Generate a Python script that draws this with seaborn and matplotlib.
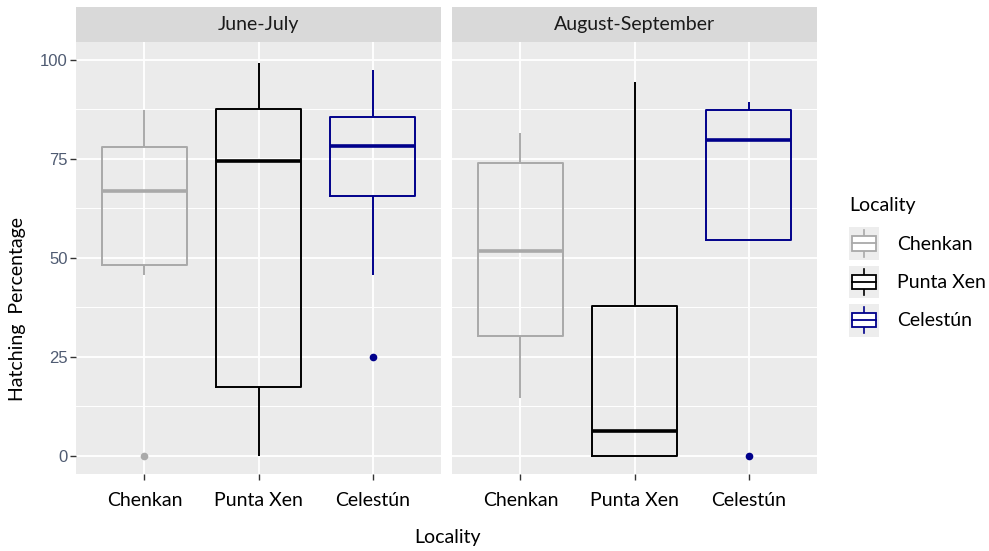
import numpy as np
import pandas as pd
import matplotlib
matplotlib.use("Agg")
import matplotlib.pyplot as plt
import seaborn as sns
from matplotlib.patches import Rectangle
from matplotlib.lines import Line2D
from matplotlib.legend_handler import HandlerBase
from matplotlib.ticker import MultipleLocator

# Hatching percentage per nest
periods = ["June-July", "August-September"]
localities = ["Chenkan", "Punta Xen", "Celestún"]

jj_chenkan = [0, 45.7, 48.2, 57, 66.9, 72, 78.0, 87.4, 87.4]
jj_punta = [0, 0, 17.4, 40, 74.5, 80, 87.6, 99.2, 99.2]
jj_celestun = [25, 45.7, 65.7, 70, 78.3, 82, 85.6, 97.5, 97.5]

as_chenkan = [14.6, 14.6, 30.3, 40, 51.8, 60, 74.0, 81.6, 81.6]
as_punta = [0, 0, 0, 3, 6.3, 20, 37.9, 94.4, 94.4]
as_celestun = [0, 54.5, 54.5, 70, 79.8, 85, 87.4, 89.4, 89.4]

colors = {"Chenkan": "#A9A9A9", "Punta Xen": "#000000", "Celestún": "#00008B"}

rows = []
for per, groups in zip(periods, [[jj_chenkan, jj_punta, jj_celestun],
                                 [as_chenkan, as_punta, as_celestun]]):
    for loc, vals in zip(localities, groups):
        for v in vals:
            rows.append({"Period": per, "Locality": loc, "Pct": v})
df = pd.DataFrame(rows)

plt.rcParams["font.family"] = ["Lato", "DejaVu Sans"]

fig, axes = plt.subplots(1, 2, figsize=(9.89, 5.51), dpi=100, sharey=True)
fig.subplots_adjust(left=76/989, right=817/989, bottom=1-474/551, top=1-42/551,
                    wspace=11/365)

tick_col = "#4F5B72"
for ax, per in zip(axes, periods):
    sub = df[df["Period"] == per]
    sns.boxplot(data=sub, x="Locality", y="Pct", hue="Locality", order=localities,
                hue_order=localities, palette=colors, fill=False, dodge=False,
                width=0.75, linewidth=1.4, showcaps=False, legend=False,
                medianprops=dict(linewidth=2.6),
                flierprops=dict(marker="o", markersize=5.5), ax=ax)
    for p in ax.patches:
        p.set_facecolor("white")
        p.set_fill(True)
    for ln in ax.lines:
        if ln.get_marker() not in (None, "None", ""):
            ln.set_markerfacecolor(ln.get_markeredgecolor())
            ln.set_markeredgewidth(0)

    ax.set_facecolor("#EBEBEB")
    ax.set_axisbelow(True)
    ax.set_xlim(-0.6, 2.6)
    ax.set_ylim(-4.6, 104.5)
    ax.yaxis.set_major_locator(MultipleLocator(25))
    ax.yaxis.set_minor_locator(MultipleLocator(12.5))
    ax.grid(which="major", color="white", linewidth=1.3)
    ax.grid(which="minor", axis="y", color="white", linewidth=0.7)
    for s in ax.spines.values():
        s.set_visible(False)
    ax.set_xlabel("")
    ax.set_ylabel("")
    ax.tick_params(axis="x", length=4, width=1, color="#333333", pad=9, labelsize=14,
                   labelcolor="black")
    ax.tick_params(axis="y", which="major", length=4, width=1, color="#333333", pad=2,
                   labelsize=12, labelcolor=tick_col)
    ax.tick_params(axis="y", which="minor", length=0)
    for lab in ax.get_yticklabels():
        lab.set_fontfamily("Liberation Sans")

    # facet strip
    strip_h = 35 / 432
    ax.add_patch(Rectangle((0, 1), 1, strip_h, transform=ax.transAxes,
                           facecolor="#D9D9D9", edgecolor="none", clip_on=False))
    ax.text(0.5, 1 + strip_h / 2, per, transform=ax.transAxes, ha="center",
            va="center", fontsize=14, color="#1A1A1A")

axes[1].tick_params(axis="y", which="both", length=0, labelleft=False)

fig.text(18/989, 242/551, "Hatching  Percentage", rotation=90, ha="center",
         va="center", fontsize=14)
fig.text(447/989, 1 - 538/551, "Locality", ha="center", va="center", fontsize=14)


class BoxKey(HandlerBase):
    def create_artists(self, legend, orig, xd, yd, w, h, fontsize, trans):
        c = orig.get_color()
        x0, y0 = -xd, -yd
        bg = Rectangle((x0, y0), w, h, facecolor="#EDEDED", edgecolor="none",
                       transform=trans)
        cx = x0 + w / 2
        wl = Line2D([cx, cx], [y0 + h * 0.1, y0 + h * 0.9], color=c, lw=1.2,
                    transform=trans)
        box = Rectangle((x0 + w * 0.1, y0 + h * 0.28), w * 0.8, h * 0.44,
                        facecolor="white", edgecolor=c, lw=1.3, transform=trans)
        med = Line2D([x0 + w * 0.1, x0 + w * 0.9], [y0 + h / 2, y0 + h / 2],
                     color=c, lw=1.3, transform=trans)
        return [bg, wl, box, med]


handles = [Line2D([], [], color=colors[l]) for l in localities]
leg = fig.legend(handles, localities, handler_map={Line2D: BoxKey()},
                 loc="upper left", bbox_to_anchor=(849/989, 1 - 197/551),
                 frameon=False, title="Locality", fontsize=14, title_fontsize=14,
                 handlelength=1.55, handleheight=2.2, handletextpad=0.9,
                 labelspacing=0.3, borderpad=0, borderaxespad=0, alignment="left")
leg._legend_box.sep = 9.5

plt.savefig("out.png", dpi=100)
